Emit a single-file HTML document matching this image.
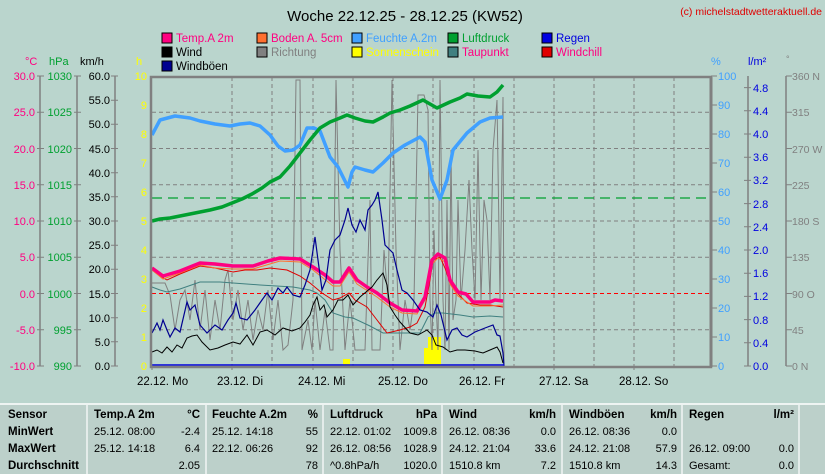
<!DOCTYPE html>
<html><head><meta charset="utf-8"><style>
html,body{margin:0;padding:0;background:#bad5cd;}
svg{display:block;font-family:"Liberation Sans",sans-serif;}
</style></head><body>
<svg width="825" height="474" viewBox="0 0 825 474" xmlns="http://www.w3.org/2000/svg">
<rect width="825" height="474" fill="#bad5cd"/>
<text x="405" y="21" font-size="15" text-anchor="middle" fill="#000">Woche 22.12.25 - 28.12.25 (KW52)</text>
<text x="822" y="15" font-size="10.5" text-anchor="end" fill="#e00000">(c) michelstadtwetteraktuell.de</text>
<g font-size="11.5">
<rect x="162" y="33" width="10" height="10" fill="#ff0080" stroke="#000"/><text x="176" y="42" fill="#ff0080">Temp.A 2m</text>
<rect x="162" y="47" width="10" height="10" fill="#000" stroke="#000"/><text x="176" y="56" fill="#000">Wind</text>
<rect x="162" y="61" width="10" height="10" fill="#000090" stroke="#000"/><text x="176" y="70" fill="#000">Windböen</text>
<rect x="257" y="33" width="10" height="10" fill="#ff7030" stroke="#000"/><text x="271" y="42" fill="#ff0080">Boden A. 5cm</text>
<rect x="257" y="47" width="10" height="10" fill="#808080" stroke="#000"/><text x="271" y="56" fill="#808080">Richtung</text>
<rect x="352" y="33" width="10" height="10" fill="#40a0ff" stroke="#000"/><text x="366" y="42" fill="#40a0ff">Feuchte A.2m</text>
<rect x="352" y="47" width="10" height="10" fill="#ffff00" stroke="#000"/><text x="366" y="56" fill="#ffff00">Sonnenschein</text>
<rect x="448" y="33" width="10" height="10" fill="#00a030" stroke="#000"/><text x="462" y="42" fill="#00a030">Luftdruck</text>
<rect x="448" y="47" width="10" height="10" fill="#408080" stroke="#000"/><text x="462" y="56" fill="#ff0080">Taupunkt</text>
<rect x="542" y="33" width="10" height="10" fill="#0000e0" stroke="#000"/><text x="556" y="42" fill="#0000e0">Regen</text>
<rect x="542" y="47" width="10" height="10" fill="#e00000" stroke="#000"/><text x="556" y="56" fill="#ff0080">Windchill</text>
</g>
<g font-size="11">
<text x="25" y="65" fill="#ff0080">°C</text>
<text x="49" y="65" fill="#00a030">hPa</text>
<text x="80" y="65" fill="#000">km/h</text>
<text x="136" y="65" fill="#ffff00">h</text>
<text x="711" y="65" fill="#40a0ff">%</text>
<text x="748" y="65" fill="#0000e0">l/m²</text>
<text x="786" y="62" fill="#808080" font-size="9">°</text>
</g>
<g stroke="#808080" stroke-width="1.5" fill="none">
<line x1="40" y1="76" x2="40" y2="366"/><line x1="77" y1="76" x2="77" y2="366"/><line x1="115" y1="76" x2="115" y2="366"/>
<line x1="748" y1="76" x2="748" y2="366"/><line x1="786" y1="76" x2="786" y2="366"/>
</g>
<g stroke="#808080" stroke-width="1">
<path d="M37 76h7M37 112.25h7M37 148.5h7M37 184.75h7M37 221h7M37 257.25h7M37 293.5h7M37 329.75h7M37 366h7"/>
<path d="M74 76h7M74 112.25h7M74 148.5h7M74 184.75h7M74 221h7M74 257.25h7M74 293.5h7M74 329.75h7M74 366h7"/>
<path d="M111 76h7M111 100.2h7M111 124.3h7M111 148.5h7M111 172.7h7M111 196.8h7M111 221h7M111 245.2h7M111 269.3h7M111 293.5h7M111 317.7h7M111 341.8h7M111 366h7"/>
<path d="M711 76h6M711 105h6M711 134h6M711 163h6M711 192h6M711 221h6M711 250h6M711 279h6M711 308h6M711 337h6M711 366h6"/>
<path d="M744 366h7M744 342.8h7M744 319.6h7M744 296.4h7M744 273.2h7M744 250h7M744 226.8h7M744 203.6h7M744 180.4h7M744 157.2h7M744 134h7M744 110.8h7M744 87.6h7"/>
<path d="M786 76h6M786 112.25h6M786 148.5h6M786 184.75h6M786 221h6M786 257.25h6M786 293.5h6M786 329.75h6M786 366h6"/>
</g>
<g font-size="11" text-anchor="end" fill="#ff0080">
<text x="35" y="80">30.0</text><text x="35" y="116">25.0</text><text x="35" y="153">20.0</text><text x="35" y="189">15.0</text><text x="35" y="225">10.0</text><text x="35" y="261">5.0</text><text x="35" y="298">0.0</text><text x="35" y="334">-5.0</text><text x="35" y="370">-10.0</text>
</g>
<g font-size="11" text-anchor="end" fill="#00a030">
<text x="72" y="80">1030</text><text x="72" y="116">1025</text><text x="72" y="153">1020</text><text x="72" y="189">1015</text><text x="72" y="225">1010</text><text x="72" y="261">1005</text><text x="72" y="298">1000</text><text x="72" y="334">995</text><text x="72" y="370">990</text>
</g>
<g font-size="11" text-anchor="end" fill="#000">
<text x="110" y="80">60.0</text><text x="110" y="104">55.0</text><text x="110" y="128">50.0</text><text x="110" y="153">45.0</text><text x="110" y="177">40.0</text><text x="110" y="201">35.0</text><text x="110" y="225">30.0</text><text x="110" y="249">25.0</text><text x="110" y="273">20.0</text><text x="110" y="298">15.0</text><text x="110" y="322">10.0</text><text x="110" y="346">5.0</text><text x="110" y="370">0.0</text>
</g>
<g font-size="11" text-anchor="end" fill="#ffff00">
<text x="147" y="80">10</text><text x="147" y="109">9</text><text x="147" y="138">8</text><text x="147" y="167">7</text><text x="147" y="196">6</text><text x="147" y="225">5</text><text x="147" y="254">4</text><text x="147" y="283">3</text><text x="147" y="312">2</text><text x="147" y="341">1</text><text x="147" y="370">0</text>
</g>
<g font-size="11" fill="#40a0ff">
<text x="718" y="80">100</text><text x="718" y="109">90</text><text x="718" y="138">80</text><text x="718" y="167">70</text><text x="718" y="196">60</text><text x="718" y="225">50</text><text x="718" y="254">40</text><text x="718" y="283">30</text><text x="718" y="312">20</text><text x="718" y="341">10</text><text x="718" y="370">0</text>
</g>
<g font-size="11" fill="#0000e0">
<text x="753" y="370">0.0</text><text x="753" y="347">0.4</text><text x="753" y="324">0.8</text><text x="753" y="300">1.2</text><text x="753" y="277">1.6</text><text x="753" y="254">2.0</text><text x="753" y="231">2.4</text><text x="753" y="208">2.8</text><text x="753" y="184">3.2</text><text x="753" y="161">3.6</text><text x="753" y="138">4.0</text><text x="753" y="115">4.4</text><text x="753" y="92">4.8</text>
</g>
<g font-size="10.5" fill="#808080">
<text x="792" y="80">360 N</text><text x="792" y="116">315</text><text x="792" y="153">270 W</text><text x="792" y="189">225</text><text x="792" y="225">180 S</text><text x="792" y="261">135</text><text x="792" y="298">90  O</text><text x="792" y="334">45</text><text x="792" y="370">0   N</text>
</g>
<g stroke="#808080" stroke-width="1" stroke-dasharray="4,3">
<path d="M152 112.25H710M152 148.5H710M152 184.75H710M152 221H710M152 257.25H710M152 329.75H710"/>
<path d="M232 77V366M272 77V366M313 77V366M353 77V366M393 77V366M433 77V366M474 77V366M514 77V366M554 77V366M594 77V366M634 77V366M674 77V366"/>
</g>
<line x1="152" y1="293.5" x2="710" y2="293.5" stroke="#ff0000" stroke-dasharray="4,3"/>
<line x1="152" y1="198" x2="710" y2="198" stroke="#00a030" stroke-width="1.3" stroke-dasharray="10,6"/>
<g fill="#ffff00">
<rect x="343" y="359" width="7" height="7"/><rect x="424" y="348" width="6" height="18"/><rect x="428" y="337" width="13" height="29"/>
</g>
<polyline fill="none" stroke="#808080" stroke-width="1" points="152,283 160,283 165,283 170,295 175,330 180,300 185,290 190,320 195,280 200,330 205,290 210,340 215,300 220,330 225,280 228,270 233,320 238,290 243,330 248,300 253,340 258,310 263,330 268,290 273,340 278,300 283,350 288,345 293,300 296,80 300,80 302,350 308,320 312,350 315,300 320,350 325,310 330,350 333,350 336,80 340,250 345,350 350,300 355,350 360,350 365,350 370,200 372,350 380,350 384,250 388,300 392,80 396,250 400,350 405,300 410,330 414,300 418,95 424,95 428,110 430,300 432,350 434,230 436,300 438,350 440,80 443,300 445,350 447,200 449,350 451,150 453,320 456,300 458,200 461,300 465,250 469,180 472,250 475,300 478,150 481,300 484,200 487,220 490,300 493,150 497,100 500,300 503,97 504,366"/>
<polyline fill="none" stroke="#408080" stroke-width="1" points="152,287 160,290 167,292 180,289 200,282 220,282 233,283 260,285 293,287 310,290 317,293 325,300 333,313 345,317 353,318 370,326 383,333 400,333 420,333 428,317 435,313 443,313 460,315 473,317 490,316 503,317"/>
<polyline fill="none" stroke="#e00000" stroke-width="1" points="152,270 160,276 167,280 180,274 200,266 215,268 233,272 245,270 257,270 270,268 287,270 300,276 310,283 322,293 333,300 340,298 349,293 355,300 367,307 377,320 387,333 400,330 410,327 417,323 425,307 430,280 433,260 440,257 445,268 450,283 460,296 467,303 480,305 490,305 503,307"/>
<polyline fill="none" stroke="#ff7030" stroke-width="1" points="152,270 163,279 180,273 200,265 215,268 233,269 253,269 280,261 300,262 313,270 333,286 340,286 349,272 357,284 377,297 390,307 402,313 417,314 425,300 432,264 438,258 445,262 450,284 458,296 473,306 490,306 503,305"/>
<polyline fill="none" stroke="#ff0080" stroke-width="3.5" stroke-linejoin="round" points="152,268 163,276 180,271 200,263 215,264 233,266 253,266 268,261 280,258 300,259 313,267 325,275 333,282 340,282 349,268 357,280 367,287 377,293 390,303 402,310 417,311 425,297 432,260 438,254 445,258 450,280 458,292 466,294 473,302 490,302 495,300 503,301"/>
<polyline fill="none" stroke="#000090" stroke-width="1.2" points="152,333 157,323 160,330 163,320 167,330 170,337 175,328 180,332 187,302 190,310 195,305 200,325 207,333 215,325 222,330 228,320 233,313 236,303 240,318 247,320 255,310 262,300 267,293 272,300 278,288 283,293 287,287 293,295 300,297 305,285 310,270 315,237 318,260 322,290 326,280 330,250 335,240 340,235 345,220 348,208 352,225 356,232 360,220 365,230 368,210 372,205 375,200 378,192 382,220 385,245 390,250 393,253 397,270 402,290 407,293 413,300 420,310 427,312 433,317 437,305 441,315 447,340 452,330 457,328 462,335 467,337 475,332 485,328 493,325 497,335 500,336 503,353 504,366"/>
<polyline fill="none" stroke="#000" stroke-width="1" points="152,352 157,350 162,353 167,347 172,352 177,345 182,348 187,338 192,336 197,335 202,342 210,350 218,348 225,345 233,342 240,344 247,335 253,345 260,332 267,330 275,335 283,328 292,331 300,328 305,322 310,315 313,305 317,297 320,310 324,305 327,317 333,310 338,300 343,300 348,295 353,305 360,297 366,292 372,287 377,280 383,273 387,285 390,307 395,315 400,322 410,333 418,335 427,330 432,335 436,345 443,347 450,352 457,350 465,350 475,351 483,353 490,350 497,347 500,352 503,363"/>
<line x1="152" y1="365" x2="504" y2="365" stroke="#0000e0" stroke-width="1.5"/>
<polyline fill="none" stroke="#40a0ff" stroke-width="3.5" stroke-linejoin="round" points="152,135 160,120 175,116 190,118 200,121 215,124 230,126 240,124 250,123 260,126 270,135 278,146 285,151 293,150 300,145 307,128 314,128 320,131 330,157 338,167 348,187 352,172 355,167 365,170 373,172 383,163 393,153 405,145 420,137 425,142 432,180 440,199 447,180 453,150 467,133 480,122 490,118 503,117"/>
<polyline fill="none" stroke="#00a030" stroke-width="3.5" stroke-linejoin="round" points="152,221 160,219 170,218 180,216 190,214 200,212 210,210 222,207 232,203 242,199 252,194 262,188 270,182 280,177 290,166 300,153 310,140 320,128 330,122 340,118 347,115 355,118 365,121 373,122 383,117 390,113 400,110 410,106 423,100 430,104 437,108 450,102 460,98 467,94 478,96 490,97 497,92 503,85"/>
<path d="M151 77H711V367H151Z" fill="none" stroke="#808080" stroke-width="2.5"/>
<line x1="711" y1="77" x2="711" y2="367" stroke="#808080" stroke-width="3"/>
<g stroke="#808080"><path d="M152 366v4M232 366v4M313 366v4M393 366v4M474 366v4M554 366v4M634 366v4"/></g>
<g font-size="11.5" fill="#000">
<text x="137" y="385">22.12.  Mo</text><text x="217" y="385">23.12.  Di</text><text x="298" y="385">24.12.  Mi</text><text x="378" y="385">25.12.  Do</text><text x="459" y="385">26.12.  Fr</text><text x="539" y="385">27.12.  Sa</text><text x="619" y="385">28.12.  So</text>
</g>
<rect x="0" y="404" width="825" height="70" fill="#bcd0ca"/>
<line x1="0" y1="404" x2="825" y2="404" stroke="#ffffff" stroke-width="1.5"/>
<g stroke="#ffffff" stroke-width="1.2"><path d="M87 405V474M206 405V474M323 405V474M442 405V474M562 405V474M682 405V474M799 405V474"/></g>
<g font-size="11.5" fill="#000" font-weight="bold">
<text x="8" y="418">Sensor</text><text x="8" y="435">MinWert</text><text x="8" y="452">MaxWert</text><text x="8" y="469">Durchschnitt</text>
<text x="94" y="418">Temp.A 2m</text><text x="200" y="418" text-anchor="end">°C</text>
<text x="212" y="418">Feuchte A.2m</text><text x="318" y="418" text-anchor="end">%</text>
<text x="330" y="418">Luftdruck</text><text x="437" y="418" text-anchor="end">hPa</text>
<text x="449" y="418">Wind</text><text x="556" y="418" text-anchor="end">km/h</text>
<text x="569" y="418">Windböen</text><text x="677" y="418" text-anchor="end">km/h</text>
<text x="689" y="418">Regen</text><text x="794" y="418" text-anchor="end">l/m²</text>
</g>
<g font-size="11" fill="#000">
<text x="94" y="435">25.12.  08:00</text><text x="200" y="435" text-anchor="end">-2.4</text>
<text x="94" y="452">25.12.  14:18</text><text x="200" y="452" text-anchor="end">6.4</text>
<text x="200" y="469" text-anchor="end">2.05</text>
<text x="212" y="435">25.12.  14:18</text><text x="318" y="435" text-anchor="end">55</text>
<text x="212" y="452">22.12.  06:26</text><text x="318" y="452" text-anchor="end">92</text>
<text x="318" y="469" text-anchor="end">78</text>
<text x="330" y="435">22.12.  01:02</text><text x="437" y="435" text-anchor="end">1009.8</text>
<text x="330" y="452">26.12.  08:56</text><text x="437" y="452" text-anchor="end">1028.9</text>
<text x="330" y="469">^0.8hPa/h</text><text x="437" y="469" text-anchor="end">1020.0</text>
<text x="449" y="435">26.12.  08:36</text><text x="556" y="435" text-anchor="end">0.0</text>
<text x="449" y="452">24.12.  21:04</text><text x="556" y="452" text-anchor="end">33.6</text>
<text x="449" y="469">1510.8 km</text><text x="556" y="469" text-anchor="end">7.2</text>
<text x="569" y="435">26.12.  08:36</text><text x="677" y="435" text-anchor="end">0.0</text>
<text x="569" y="452">24.12.  21:08</text><text x="677" y="452" text-anchor="end">57.9</text>
<text x="569" y="469">1510.8 km</text><text x="677" y="469" text-anchor="end">14.3</text>
<text x="689" y="452">26.12.  09:00</text><text x="794" y="452" text-anchor="end">0.0</text>
<text x="689" y="469">Gesamt:</text><text x="794" y="469" text-anchor="end">0.0</text>
</g>
</svg>
</body></html>
